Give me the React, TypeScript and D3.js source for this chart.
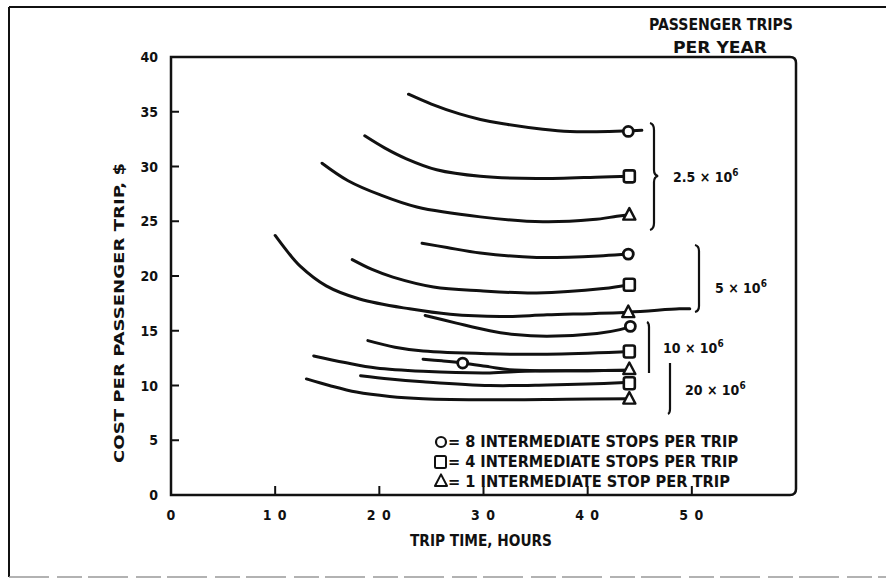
import React from "react";
import * as d3 from "d3";

type Pt = [number, number];

// Trip time (hours) vs cost per passenger trip ($)
const c25Stops8: Pt[] = [[22.8,36.6],[25,35.7],[27.7,34.8],[29.7,34.3],[31.9,33.9],[35.7,33.4],[38.3,33.2],[42.1,33.2],[45.2,33.3]];
const c25Stops4: Pt[] = [[18.6,32.8],[20.5,31.7],[22.6,30.7],[25.5,29.7],[29.7,29.1],[35.1,28.9],[41.5,29.05],[44,29.1]];
const c25Stops1: Pt[] = [[14.5,30.3],[17,28.7],[20.1,27.4],[23.6,26.3],[29.7,25.4],[35.7,24.95],[40.5,25.15],[42.8,25.45],[44,25.6]];
const c5Stops8: Pt[] = [[24.1,23.0],[26.5,22.6],[29.7,22.1],[35.1,21.7],[41.5,21.85],[43.9,22.0]];
const c5Stops4: Pt[] = [[17.4,21.5],[19.3,20.6],[21.3,19.9],[25.2,19.0],[29.7,18.65],[35.1,18.45],[41.5,18.85],[44,19.2]];
const c5Stops1: Pt[] = [[10,23.7],[11.2,22.2],[12.4,20.9],[14.9,19.1],[18.1,17.9],[22.9,17.0],[26.8,16.5],[31.6,16.3],[36.1,16.45],[43.9,16.7],[48.8,17.0],[49.8,17.0]];
const c10Stops8: Pt[] = [[24.4,16.4],[27.4,15.7],[30.6,15.0],[33,14.65],[36.1,14.5],[40.9,14.75],[43.1,15.1],[44.1,15.4]];
const c10Stops4: Pt[] = [[18.9,14.1],[21.5,13.5],[24.2,13.15],[30.6,12.9],[36.1,12.85],[43.1,13.05],[44.1,13.1]];
const c10Stops1: Pt[] = [[13.7,12.7],[16.7,12.1],[19.7,11.6],[24.2,11.3],[30.6,11.15],[34,11.3],[40,11.35],[44,11.4]];
const c20Stops8: Pt[] = [[24.2,12.4],[26,12.25],[28.0,12.05],[30.6,11.7],[32.5,11.45],[36,11.35],[40,11.35],[44,11.4]];
const c20Stops4: Pt[] = [[18.2,10.9],[21,10.6],[24.2,10.35],[30.6,10.0],[36.1,10.05],[43.1,10.25],[44,10.3]];
const c20Stops1: Pt[] = [[13.0,10.6],[15.2,10.0],[17.8,9.4],[21,9.0],[24.2,8.8],[30.6,8.7],[38,8.75],[44,8.8]];

const curves: Pt[][] = [c25Stops8, c25Stops4, c25Stops1, c5Stops8, c5Stops4, c5Stops1, c10Stops8, c10Stops4, c10Stops1, c20Stops8, c20Stops4, c20Stops1];

const circleMarkers: Pt[] = [[43.9,33.2],[43.9,22.0],[44.1,15.4],[28.0,12.05]];
const squareMarkers: Pt[] = [[44,29.1],[44,19.2],[44,13.1],[44,10.2]];
const triangleMarkers: Pt[] = [[44,25.6],[43.9,16.7],[44,11.5],[44,8.8]];

const xTicks = [0, 10, 20, 30, 40, 50];
const yTicks = [0, 5, 10, 15, 20, 25, 30, 35, 40];
const xTickLabels = ["0", "1 0", "2 0", "3 0", "4 0", "5 0"];

const groupLabels = ["2.5", "5", "10", "20"];
const legendLabels = ["= 8 INTERMEDIATE STOPS PER TRIP", "= 4 INTERMEDIATE STOPS PER TRIP", "= 1 INTERMEDIATE STOP PER TRIP"];

const FONT = "'Liberation Sans Narrow', 'DejaVu Sans Condensed', 'Liberation Sans', Arial, sans-serif";
const INK = "#111";

export default function App() {
  const x = d3.scaleLinear().domain([0, 60]).range([171, 796]);
  const y = d3.scaleLinear().domain([0, 40]).range([495, 57]);
  const line = d3.line<Pt>().x(d => x(d[0])).y(d => y(d[1])).curve(d3.curveCatmullRom.alpha(0.5));

  const tri = (cx: number, cy: number, s: number) =>
    `M${cx},${cy - s * 0.6} L${cx + s * 0.55},${cy + s * 0.45} L${cx - s * 0.55},${cy + s * 0.45} Z`;

  const textCommon = { fontFamily: FONT, fontWeight: 700 as const, fill: INK };

  const groupText = [
    { label: groupLabels[0], x: 673, y: 182 },
    { label: groupLabels[1], x: 715, y: 293 },
    { label: groupLabels[2], x: 663, y: 353 },
    { label: groupLabels[3], x: 685, y: 395 },
  ];

  return (
    <svg width={886} height={579} style={{ position: "absolute", left: 0, top: 0, background: "#fff" }}>
      <rect x={0} y={0} width={886} height={579} fill="#fff" />
      {/* outer frame */}
      <line x1={9} y1={7} x2={886} y2={7} stroke={INK} strokeWidth={2} />
      <line x1={9} y1={7} x2={9} y2={577} stroke={INK} strokeWidth={2} />
      <line x1={9} y1={577} x2={886} y2={577} stroke="#999" strokeWidth={1.5} strokeDasharray="40 8 25 6" />

      {/* plot box */}
      <path d={`M${x(0)},${y(40)} L${x(60) - 6},${y(40)} Q${x(60)},${y(40)} ${x(60)},${y(40) + 6} L${x(60)},${y(0) - 6} Q${x(60)},${y(0)} ${x(60) - 6},${y(0)} L${x(0)},${y(0)} Z`}
        fill="none" stroke={INK} strokeWidth={2.5} />

      {/* y ticks */}
      {yTicks.map(t => (
        <g key={"y" + t}>
          {t > 0 && t < 40 && <line x1={x(0)} x2={x(0) + 8} y1={y(t)} y2={y(t)} stroke={INK} strokeWidth={2} />}
          <text x={158} y={y(t) + 5} textAnchor="end" fontSize={14} {...textCommon}>{t}</text>
        </g>
      ))}
      {/* x ticks */}
      {xTicks.map((t, i) => (
        <g key={"x" + t}>
          {t > 0 && <line x1={x(t)} x2={x(t)} y1={y(0)} y2={y(0) - 9} stroke={INK} strokeWidth={2} />}
          <text x={x(t)} y={520} textAnchor="middle" fontSize={14} letterSpacing={i > 0 ? 1 : 0} {...textCommon}>{xTickLabels[i]}</text>
        </g>
      ))}

      {/* axis titles */}
      <text x={481} y={546} textAnchor="middle" fontSize={16} textLength={142} lengthAdjust="spacingAndGlyphs" {...textCommon}>TRIP TIME, HOURS</text>
      <text transform={`translate(124,313) rotate(-90)`} textAnchor="middle" fontSize={14} textLength={300} lengthAdjust="spacingAndGlyphs" {...textCommon}>COST PER PASSENGER TRIP, $</text>

      <text x={721} y={30} textAnchor="middle" fontSize={16} textLength={144} lengthAdjust="spacingAndGlyphs" {...textCommon}>PASSENGER TRIPS</text>
      <text x={720} y={53} textAnchor="middle" fontSize={16} textLength={94} lengthAdjust="spacingAndGlyphs" {...textCommon}>PER YEAR</text>

      {/* curves */}
      {curves.map((c, i) => (
        <path key={"c" + i} d={line(c) || ""} fill="none" stroke={INK} strokeWidth={3} strokeLinecap="round" />
      ))}

      {/* markers */}
      {circleMarkers.map((p, i) => (
        <circle key={"m" + i} cx={x(p[0])} cy={y(p[1])} r={5} fill="#fff" stroke={INK} strokeWidth={2.8} />
      ))}
      {squareMarkers.map((p, i) => (
        <rect key={"s" + i} x={x(p[0]) - 5.5} y={y(p[1]) - 6} width={11} height={12} rx={2} fill="#fff" stroke={INK} strokeWidth={2.6} />
      ))}
      {triangleMarkers.map((p, i) => (
        <path key={"t" + i} d={tri(x(p[0]), y(p[1]), 11)} fill="#fff" stroke={INK} strokeWidth={2.4} strokeLinejoin="round" />
      ))}

      {/* braces */}
      <path d="M650,123 Q654,124 654,130 L654,170 Q654,175 658,176 Q654,177 654,182 L654,223 Q654,229 650,230" fill="none" stroke={INK} strokeWidth={2.2} />
      <path d="M695,245 Q699,246 699,251 L699,306 Q699,311 695,312" fill="none" stroke={INK} strokeWidth={2.2} />
      <path d="M647,322 Q649,323 649,327 L649,373" fill="none" stroke={INK} strokeWidth={2.2} />
      <path d="M670,363 L670,409 Q670,413 668,414" fill="none" stroke={INK} strokeWidth={2.2} />

      {groupText.map((g, i) => (
        <text key={"g" + i} x={g.x} y={g.y} fontSize={14} {...textCommon}>
          {g.label} × 10<tspan dy={-6} fontSize={10}>6</tspan>
        </text>
      ))}

      {/* legend */}
      <circle cx={441} cy={442} r={5} fill="#fff" stroke={INK} strokeWidth={2.2} />
      <rect x={435} y={456} width={11} height={12} rx={1.5} fill="#fff" stroke={INK} strokeWidth={2} />
      <path d={tri(441, 481, 11)} fill="#fff" stroke={INK} strokeWidth={2} strokeLinejoin="round" />
      <text x={448} y={447} fontSize={16} textLength={290} lengthAdjust="spacingAndGlyphs" {...textCommon}>{legendLabels[0]}</text>
      <text x={448} y={467} fontSize={16} textLength={290} lengthAdjust="spacingAndGlyphs" {...textCommon}>{legendLabels[1]}</text>
      <text x={448} y={487} fontSize={16} textLength={282} lengthAdjust="spacingAndGlyphs" {...textCommon}>{legendLabels[2]}</text>
    </svg>
  );
}
